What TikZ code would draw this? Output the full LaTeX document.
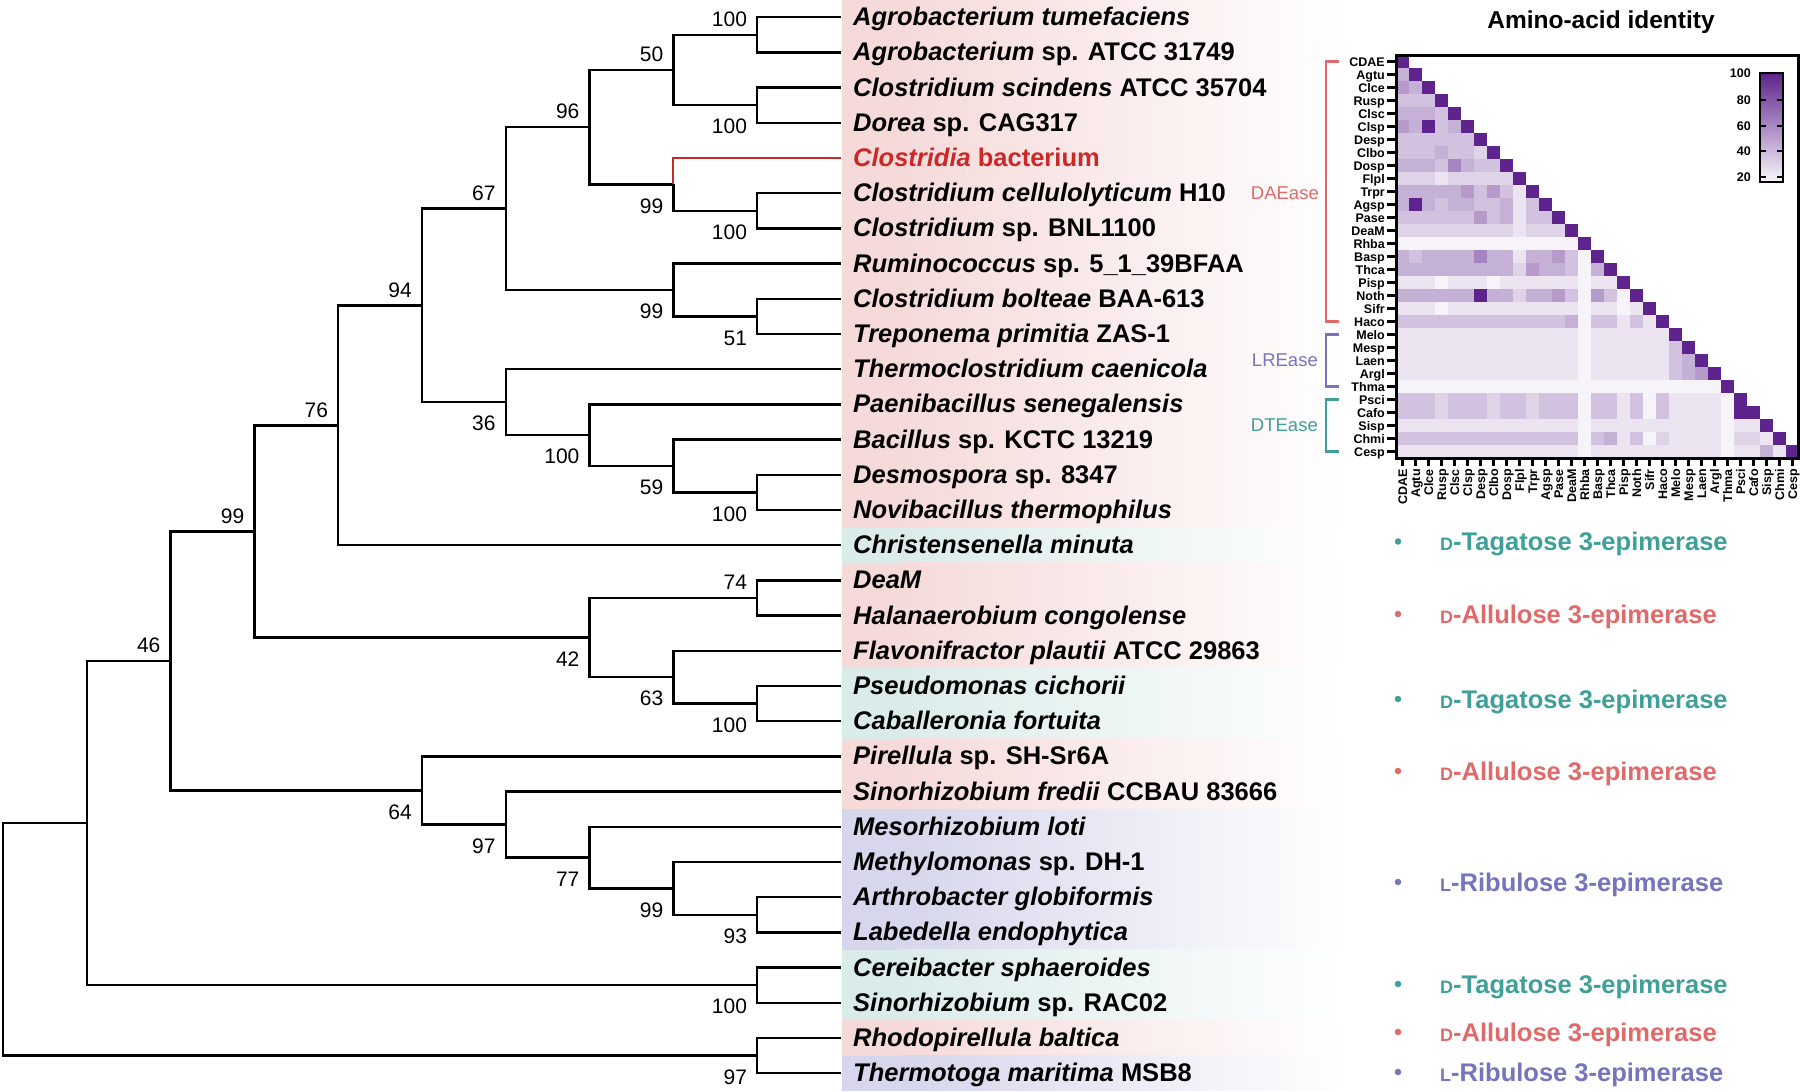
\documentclass[tikz,border=0pt]{standalone}
\usepackage{fontspec}
\setmainfont{Liberation Sans}
\definecolor{hmD}{RGB}{94,35,140}
\colorlet{hm0}{hmD!5!white}
\colorlet{hm1}{hmD!12!white}
\colorlet{hm2}{hmD!20!white}
\colorlet{hm3}{hmD!28!white}
\colorlet{hm4}{hmD!36!white}
\colorlet{hm5}{hmD!46!white}
\colorlet{hm6}{hmD!56!white}
\colorlet{hm7}{hmD!68!white}
\colorlet{hm8}{hmD!82!white}
\colorlet{hm9}{hmD}
\definecolor{bandR}{RGB}{246,218,218}
\definecolor{bandT}{RGB}{218,236,234}
\definecolor{bandB}{RGB}{214,214,236}
\definecolor{txTeal}{RGB}{62,160,152}
\definecolor{txRed}{RGB}{224,106,106}
\definecolor{txBlue}{RGB}{118,116,188}
\definecolor{clRed}{RGB}{204,40,40}
\begin{document}
\begin{tikzpicture}[x=1pt,y=-1pt,
  branch/.style={line width=2.4pt,black},
  redbranch/.style={line width=2pt,draw=clRed},
  boot/.style={font=\fontsize{21}{21}\selectfont,inner sep=0pt,anchor=east},
  leaf/.style={font=\fontsize{25.5}{28}\selectfont\bfseries,inner sep=0pt,anchor=base west},
  hmlab/.style={font=\fontsize{12.5}{13}\selectfont\bfseries,inner sep=0pt,anchor=base east},
  legtxt/.style={font=\fontsize{25.5}{28}\selectfont\bfseries,inner sep=0pt,anchor=base west},
  legdot/.style={circle,inner sep=0pt,minimum size=6.5pt},
  grplab/.style={font=\fontsize{18.5}{20}\selectfont,inner sep=0pt,anchor=east},
  tick/.style={line width=2.2pt},
  bracket/.style={line width=2.5pt}]
\useasboundingbox (0,0) rectangle (1800,1092);
\fill[white] (0,0) rectangle (1800,1092);

% label background bands
\foreach \c [count=\i from 0] in {R,R,R,R,R,R,R,R,R,R,R,R,R,R,R,T,R,R,R,T,T,R,R,B,B,B,B,T,T,R,B}{
  \fill[band\c] (842,{17.2+35.2*\i-17.7}) rectangle (900,{17.2+35.2*\i+17.7});
  \shade[left color=band\c,right color=white] (899.5,{17.2+35.2*\i-17.7}) rectangle (1345,{17.2+35.2*\i+17.7});
}

% leaves
\foreach \txt [count=\i from 0] in {
 {\textit{Agrobacterium tumefaciens}},
 {\textit{Agrobacterium} sp. ATCC 31749},
 {\textit{Clostridium scindens} ATCC 35704},
 {\textit{Dorea} sp. CAG317},
 {\color{clRed}\textit{Clostridia} bacterium},
 {\textit{Clostridium cellulolyticum} H10},
 {\textit{Clostridium} sp. BNL1100},
 {\textit{Ruminococcus} sp. 5\_1\_39BFAA},
 {\textit{Clostridium bolteae} BAA-613},
 {\textit{Treponema primitia} ZAS-1},
 {\textit{Thermoclostridium caenicola}},
 {\textit{Paenibacillus senegalensis}},
 {\textit{Bacillus} sp. KCTC 13219},
 {\textit{Desmospora} sp. 8347},
 {\textit{Novibacillus thermophilus}},
 {\textit{Christensenella minuta}},
 {\textit{DeaM}},
 {\textit{Halanaerobium congolense}},
 {\textit{Flavonifractor plautii} ATCC 29863},
 {\textit{Pseudomonas cichorii}},
 {\textit{Caballeronia fortuita}},
 {\textit{Pirellula} sp. SH-Sr6A},
 {\textit{Sinorhizobium fredii} CCBAU 83666},
 {\textit{Mesorhizobium loti}},
 {\textit{Methylomonas} sp. DH-1},
 {\textit{Arthrobacter globiformis}},
 {\textit{Labedella endophytica}},
 {\textit{Cereibacter sphaeroides}},
 {\textit{Sinorhizobium} sp. RAC02},
 {\textit{Rhodopirellula baltica}},
 {\textit{Thermotoga maritima} MSB8}}{
  \coordinate (t\i) at (841,{17.2+35.2*\i});
  \node[leaf] (l\i) at (853,{17.2+35.2*\i+8.5}) {\txt};
}

% internal nodes
\coordinate (nA) at (757.2,34.8);
\coordinate (nB) at (757.2,105.2);
\coordinate (nC) at (673.4,70);
\coordinate (nD) at (757.2,210.8);
\coordinate (nE) at (673.4,184.4);
\coordinate (nF) at (589.6,127.2);
\coordinate (nG) at (757.2,316.4);
\coordinate (nH) at (673.4,290);
\coordinate (nI) at (505.8,208.6);
\coordinate (nJ) at (757.2,492.4);
\coordinate (nK) at (673.4,466);
\coordinate (nL) at (589.6,435.2);
\coordinate (nM) at (505.8,402.2);
\coordinate (nN) at (422,305.4);
\coordinate (nO) at (338.2,425.3);
\coordinate (nP) at (757.2,598);
\coordinate (nQ) at (757.2,703.6);
\coordinate (nR) at (673.4,677.2);
\coordinate (nS) at (589.6,637.6);
\coordinate (nT) at (254.4,531.45);
\coordinate (nU) at (757.2,914.8);
\coordinate (nV) at (673.4,888.4);
\coordinate (nW) at (589.6,857.6);
\coordinate (nX) at (505.8,824.6);
\coordinate (nY) at (422,790.5);
\coordinate (nZ) at (170.6,661);
\coordinate (nAA) at (757.2,985.2);
\coordinate (nAB) at (86.8,823.1);
\coordinate (nAC) at (757.2,1055.6);
\coordinate (root) at (3,939.4);

% branches
\foreach \p/\c in {nA/t0,nA/t1,nB/t2,nB/t3,nC/nA,nC/nB,nD/t5,nD/t6,nE/nD,
  nF/nC,nF/nE,nG/t8,nG/t9,nH/t7,nH/nG,nI/nF,nI/nH,nJ/t13,nJ/t14,nK/t12,nK/nJ,
  nL/t11,nL/nK,nM/t10,nM/nL,nN/nI,nN/nM,nO/nN,nO/t15,nP/t16,nP/t17,nQ/t19,nQ/t20,
  nR/t18,nR/nQ,nS/nP,nS/nR,nT/nO,nT/nS,nU/t25,nU/t26,nV/t24,nV/nU,nW/t23,nW/nV,
  nX/t22,nX/nW,nY/t21,nY/nX,nZ/nT,nZ/nY,nAA/t27,nAA/t28,nAB/nZ,nAB/nAA,
  nAC/t29,nAC/t30,root/nAB,root/nAC}{
  \draw[branch] (\p) |- (\c);
}
\draw[redbranch] (nE) |- (t4);

% bootstrap values
\foreach \n/\v/\s in {nA/100/a,nB/100/b,nC/50/a,nD/100/b,nE/99/b,nF/96/a,nG/51/b,
  nH/99/b,nI/67/a,nJ/100/b,nK/59/b,nL/100/b,nM/36/b,nN/94/a,nO/76/a,nP/74/a,
  nQ/100/b,nR/63/b,nS/42/b,nT/99/a,nU/93/b,nV/99/b,nW/77/b,nX/97/b,nY/64/b,
  nZ/46/a,nAA/100/b,nAC/97/b}{
  \if\s a
    \node[boot] (b\n) at ([shift={(-10,-15.5)}]\n) {\v};
  \else
    \node[boot] (b\n) at ([shift={(-10,21.5)}]\n) {\v};
  \fi
}

% heatmap title
\node[font=\fontsize{24.5}{26}\selectfont\bfseries,inner sep=0pt,anchor=base] (title) at (1601,28.3) {Amino-acid identity};

% heatmap cells
\foreach \rv [count=\i from 0] in {
 {9},{4,9},{5,4,9},{3,3,3,9},{4,4,4,3,9},{5,4,9,3,4,9},{3,3,3,3,3,3,9},
 {3,3,3,4,3,3,2,9},{4,4,4,3,6,4,3,3,9},{2,2,2,1,2,2,2,2,2,9},
 {4,4,4,4,4,5,3,5,3,1,9},{4,9,4,3,4,4,3,3,4,1,3,9},{3,3,3,3,3,3,5,3,4,1,3,3,9},
 {2,2,2,2,2,2,2,2,2,1,2,2,2,9},{0,0,0,0,0,0,0,0,0,0,0,0,0,0,9},
 {4,3,4,4,4,4,6,4,4,1,4,4,5,3,0,9},{4,4,4,4,4,4,4,4,4,2,5,4,4,3,0,4,9},
 {1,1,1,0,1,1,1,0,1,1,1,1,1,1,0,1,1,9},{4,4,4,4,4,4,9,4,4,2,4,4,5,3,0,5,3,0,9},
 {1,1,1,0,1,1,1,1,1,1,1,1,1,1,0,1,1,0,1,9},{3,3,3,3,3,3,3,3,3,3,3,3,3,4,0,3,3,1,3,1,9},
 {1,1,1,1,1,1,1,1,1,1,1,1,1,1,0,1,1,1,1,1,1,9},
 {1,1,1,1,1,1,1,1,1,1,1,1,1,1,0,1,1,1,1,1,1,3,9},
 {1,1,1,1,1,1,1,1,1,1,1,1,1,1,0,1,1,1,1,1,1,3,4,9},
 {1,1,1,1,1,1,1,1,1,1,1,1,1,1,0,1,1,1,1,1,1,3,4,5,9},
 {0,0,0,0,0,0,0,0,0,0,0,0,0,0,0,0,0,0,0,0,0,0,0,0,0,9},
 {3,3,3,2,3,3,3,2,3,3,2,3,3,3,0,3,3,1,3,0,3,1,1,1,1,0,9},
 {3,3,3,2,3,3,3,2,3,3,2,3,3,3,0,3,3,1,3,0,3,1,1,1,1,0,9,9},
 {1,1,1,1,1,1,1,1,1,1,1,1,1,1,0,1,1,1,1,1,1,1,1,1,1,0,1,1,9},
 {3,3,3,3,3,3,3,3,3,3,3,3,3,3,0,3,4,1,3,0,2,1,1,1,1,0,2,2,1,9},
 {1,1,1,1,1,1,1,1,1,1,1,1,1,1,0,1,1,1,1,1,1,1,1,1,1,0,1,1,4,1,9}}{
  \foreach \v [count=\j from 0] in \rv {
    \fill[fill=hm\v] ({1396+13*\j},{55+13*\i}) rectangle ++(13.4,13.4);
  }
}

% heatmap axis labels and ticks
\foreach \n [count=\i from 0] in {CDAE,Agtu,Clce,Rusp,Clsc,Clsp,Desp,Clbo,Dosp,Flpl,Trpr,Agsp,Pase,DeaM,Rhba,Basp,Thca,Pisp,Noth,Sifr,Haco,Melo,Mesp,Laen,Argl,Thma,Psci,Cafo,Sisp,Chmi,Cesp}{
  \node[hmlab] (rl\i) at (1385,{55+13*\i+6.5+4.5}) {\n};
  \draw[tick] (1387,{55+13*\i+6.5}) -- (1396,{55+13*\i+6.5});
  \node[hmlab,rotate=90] (cl\i) at ({1396+13*\i+6.5+4.5},469) {\n};
  \draw[tick] ({1396+13*\i+6.5},458) -- ({1396+13*\i+6.5},466);
}
\draw[line width=3pt] (1396,55) rectangle (1798,458);

% colour bar
\shade[top color=hmD,bottom color=hmD!4!white] (1760,73) rectangle (1783,182);
\draw[line width=2.5pt] (1760,73) rectangle (1783,182);
\foreach \v/\y in {100/73,80/100,60/126,40/151,20/177}{
  \node[hmlab,anchor=east] (cb\v) at (1751,\y) {\v};
}
\foreach \y in {100,126,151,177}{
  \draw[line width=2pt] (1760,\y) -- (1766,\y);
  \draw[line width=2pt] (1777,\y) -- (1783,\y);
}

% group brackets
\draw[bracket,txRed] (1339,61.5) -- (1326,61.5) -- (1326,321.5) -- (1339,321.5);
\draw[bracket,txBlue] (1339,334.5) -- (1326,334.5) -- (1326,386.5) -- (1339,386.5);
\draw[bracket,txTeal] (1339,399.5) -- (1326,399.5) -- (1326,451.5) -- (1339,451.5);
\node[grplab,text=txRed] (gDAE) at (1319,193) {DAEase};
\node[grplab,text=txBlue] (gLRE) at (1318,360) {LREase};
\node[grplab,text=txTeal] (gDTE) at (1318,425) {DTEase};

% legend
\foreach \y/\c/\sc/\rest [count=\k] in {
  541.5/txTeal/D/-Tagatose 3-epimerase,
  614/txRed/D/-Allulose 3-epimerase,
  699/txTeal/D/-Tagatose 3-epimerase,
  771/txRed/D/-Allulose 3-epimerase,
  882/txBlue/L/-Ribulose 3-epimerase,
  984/txTeal/D/-Tagatose 3-epimerase,
  1032/txRed/D/-Allulose 3-epimerase,
  1072/txBlue/L/-Ribulose 3-epimerase}{
  \node[legdot,fill=\c] (dot\k) at (1398,\y) {};
  \node[legtxt,text=\c] (leg\k) at (1440,\y+9) {{\fontsize{18}{18}\selectfont\sc}\rest};
}
\end{tikzpicture}
\end{document}
